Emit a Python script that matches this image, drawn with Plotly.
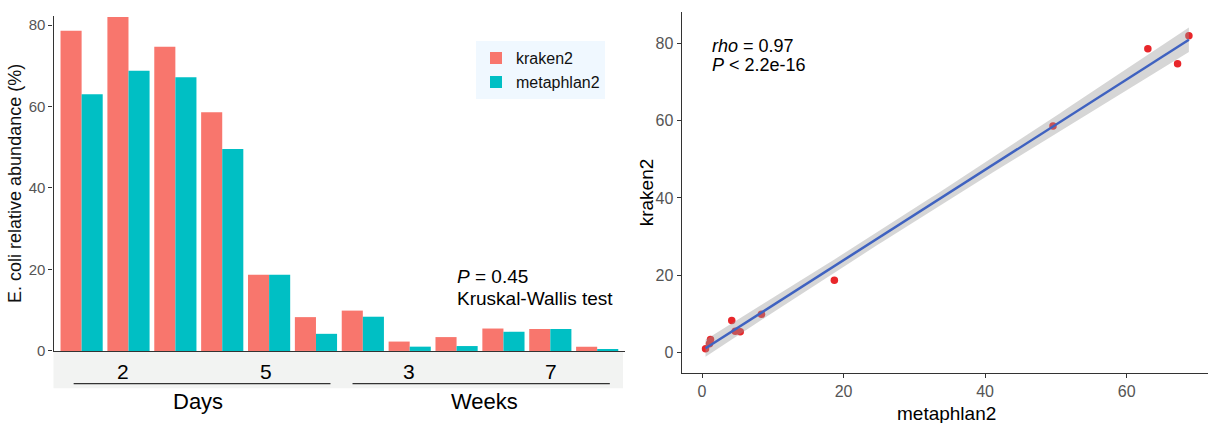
import numpy as np
import plotly.graph_objects as go

W, H = 1208, 423

# ---------------- data ----------------
samples = list(range(12))
kraken2 = [78.6, 82.0, 74.7, 58.6, 18.7, 8.3, 9.9, 2.3, 3.4, 5.5, 5.4, 1.0]
metaphlan2 = [63.0, 68.8, 67.2, 49.6, 18.7, 4.2, 8.4, 1.05, 1.2, 4.7, 5.4, 0.5]
time_labels = ["2", "5", "3", "7"]
unit_labels = ["Days", "Weeks"]
left_yticks = [0, 20, 40, 60, 80]
right_xticks = [0, 20, 40, 60]
right_yticks = [0, 20, 40, 60, 80]
kw_text = ["<i>P</i> = 0.45", "Kruskal-Wallis test"]
cor_text = ["<i>rho</i> = 0.97", "<i>P</i> < 2.2e-16"]

# ---------------- linear fit (geom_smooth, method = lm) ----------------
xv = np.array(metaphlan2)
yv = np.array(kraken2)
n = len(xv)
b1, b0 = np.polyfit(xv, yv, 1)
xs = np.linspace(xv.min(), xv.max(), 80)
yhat = b0 + b1 * xs
resid = yv - (b0 + b1 * xv)
s = np.sqrt(np.sum(resid ** 2) / (n - 2))
sxx = np.sum((xv - xv.mean()) ** 2)
se = s * np.sqrt(1.0 / n + (xs - xv.mean()) ** 2 / sxx)
tcrit = 2.228  # t(0.975, df=10)
upper = yhat + tcrit * se
lower = yhat - tcrit * se

FONT = "Liberation Sans, Arial, Helvetica, sans-serif"
KR_COL = "#F8766D"
MP_COL = "#00BFC4"

fig = go.Figure()

# bars
fig.add_trace(go.Bar(x=samples, y=kraken2, name="kraken2", marker=dict(color=KR_COL, line=dict(width=0)),
                     xaxis="x", yaxis="y"))
fig.add_trace(go.Bar(x=samples, y=metaphlan2, name="metaphlan2", marker=dict(color=MP_COL, line=dict(width=0)),
                     xaxis="x", yaxis="y"))

# scatter
fig.add_trace(go.Scatter(x=metaphlan2, y=kraken2, mode="markers", showlegend=False,
                         marker=dict(color="#E8262A", size=7.5, line=dict(width=0)),
                         xaxis="x2", yaxis="y2"))
fig.add_trace(go.Scatter(x=np.concatenate([xs, xs[::-1]]), y=np.concatenate([upper, lower[::-1]]),
                         mode="lines", fill="toself", fillcolor="rgba(153,153,153,0.4)",
                         line=dict(width=0), showlegend=False, hoverinfo="skip",
                         xaxis="x2", yaxis="y2"))
fig.add_trace(go.Scatter(x=xs, y=yhat, mode="lines", line=dict(color="#3F62C0", width=2.5),
                         showlegend=False, xaxis="x2", yaxis="y2"))

def px(v):
    return v / W

def py(v):
    return 1 - v / H

axis_common = dict(showgrid=False, zeroline=False, showline=True, linecolor="#333333", linewidth=1.2,
                   ticks="outside", ticklen=4, tickcolor="#333333", tickwidth=1)

layout = dict(
    width=W, height=H, margin=dict(l=0, r=0, t=0, b=0),
    paper_bgcolor="white", plot_bgcolor="white",
    font=dict(family=FONT, color="#111111"),
    barmode="group", bargap=0.1, bargroupgap=0.0,
    xaxis=dict(domain=[px(53.5), px(625.3)], range=[-0.6, 11.6], anchor="y",
               showgrid=False, zeroline=False, showline=True, linecolor="#333333", linewidth=1.2,
               showticklabels=False, ticks=""),
    yaxis=dict(domain=[py(357.7), py(16)], range=[0, 82.3], anchor="x", tickvals=left_yticks,
               tickfont=dict(size=15, color="#555555", family=FONT), **axis_common),
    xaxis2=dict(domain=[px(681.7), 1.0], range=[-2.87, 71.5], anchor="y2", tickvals=right_xticks,
                tickfont=dict(size=16, color="#555555", family=FONT), **axis_common),
    yaxis2=dict(domain=[py(380), py(12.3)], range=[-5.25, 88.1], anchor="x2", tickvals=right_yticks,
                tickfont=dict(size=16, color="#555555", family=FONT), **axis_common),
    legend=dict(x=px(476), y=py(42), xanchor="left", yanchor="top", bgcolor="#F0F8FF",
                font=dict(size=16, family=FONT, color="#111111"), tracegroupgap=0,
                borderwidth=0, itemwidth=30),
)
fig.update_layout(**layout)

# grey strip under the bars
fig.add_shape(type="rect", xref="paper", yref="paper", x0=px(53.5), x1=px(623), y0=py(395.7), y1=py(358.5),
              fillcolor="#F2F3F2", line=dict(width=0), layer="below")

# group lines
line_spans = [(-0.17, 5.31), (5.78, 11.27)]
for a, b in line_spans:
    fig.add_shape(type="line", xref="x", yref="paper", x0=a, x1=b, y0=py(391), y1=py(391),
                  line=dict(color="#333333", width=1.2))

ann = []
time_pos = [0.89, 3.93, 6.98, 10.01]
for lab, xp in zip(time_labels, time_pos):
    ann.append(dict(text=lab, x=xp, xref="x", y=py(379), yref="paper", showarrow=False,
                    xanchor="center", yanchor="middle", font=dict(size=21, color="#000000", family=FONT)))
for lab, xp in zip(unit_labels, [197.5, 484]):
    ann.append(dict(text=lab, x=px(xp), xref="paper", y=py(409), yref="paper", showarrow=False,
                    xanchor="center", yanchor="middle", font=dict(size=22, color="#000000", family=FONT)))
# left y title
ann.append(dict(text="E. coli relative abundance (%)", x=px(15), y=py(187.5), xref="paper", yref="paper",
                textangle=-90, showarrow=False, xanchor="center", yanchor="middle",
                font=dict(size=18, color="#111111", family=FONT)))
# Kruskal-Wallis text
for t, yp in zip(kw_text, [282, 304]):
    ann.append(dict(text=t, x=px(455), y=py(yp), xref="paper", yref="paper", showarrow=False,
                    xanchor="left", yanchor="middle", font=dict(size=19, color="#000000", family=FONT)))
# correlation text
for t, yp in zip(cor_text, [46.7, 66.7]):
    ann.append(dict(text=t, x=px(709.5), y=py(yp), xref="paper", yref="paper", showarrow=False,
                    xanchor="left", yanchor="middle", font=dict(size=18, color="#000000", family=FONT)))
# right axis titles
ann.append(dict(text="kraken2", x=px(646), y=py(196), xref="paper", yref="paper", textangle=-90,
                showarrow=False, xanchor="center", yanchor="middle",
                font=dict(size=19, color="#000000", family=FONT)))
ann.append(dict(text="metaphlan2", x=px(946.7), y=py(421), xref="paper", yref="paper",
                showarrow=False, xanchor="center", yanchor="middle", borderpad=0,
                font=dict(size=19, color="#000000", family=FONT)))
fig.update_layout(annotations=ann)

fig.write_html("out.html")
